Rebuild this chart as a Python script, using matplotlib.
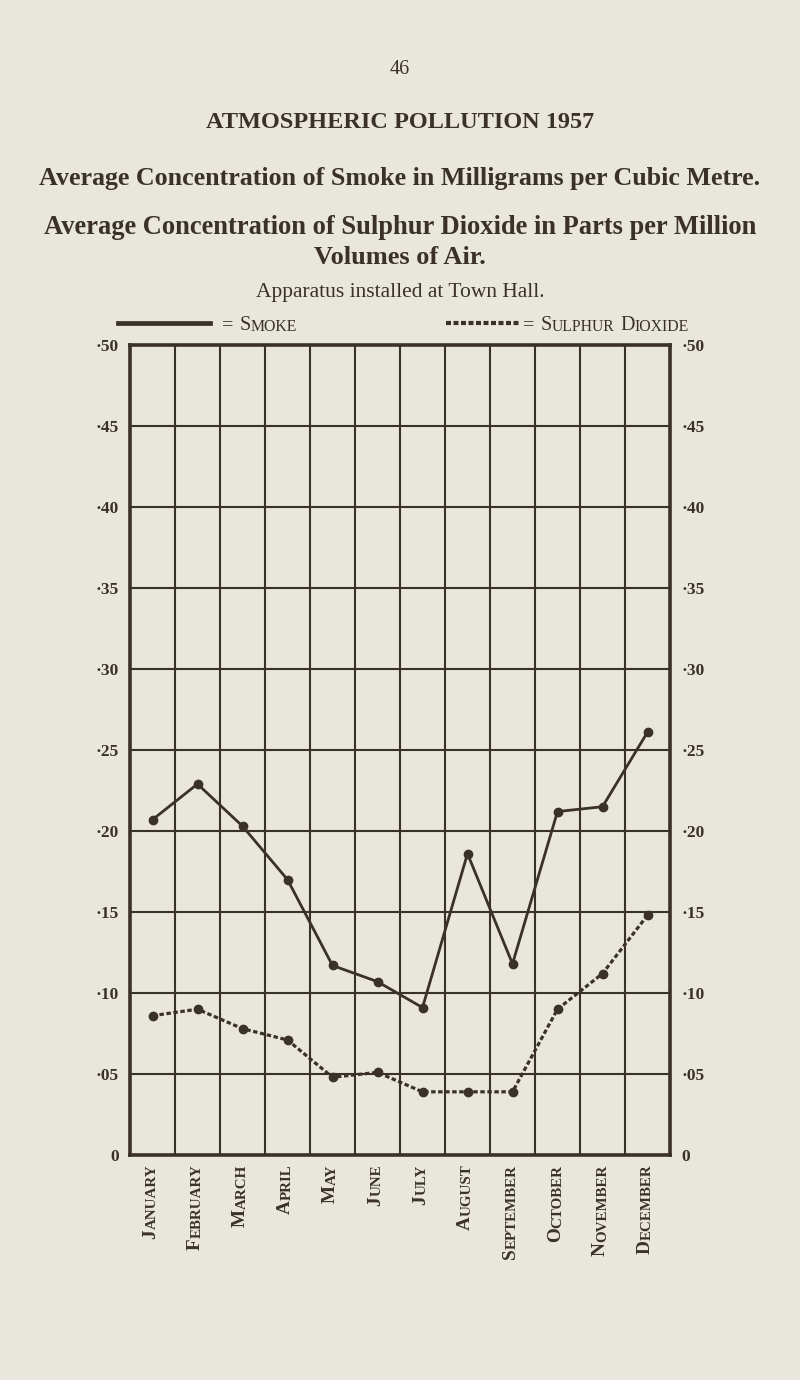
import matplotlib
matplotlib.use("Agg")
import matplotlib.pyplot as plt
from matplotlib.lines import Line2D

# data (1957, monthly averages)
months = ["January", "February", "March", "April", "May", "June", "July",
          "August", "September", "October", "November", "December"]
smoke = [0.207, 0.229, 0.203, 0.170, 0.117, 0.107, 0.091, 0.186, 0.118, 0.212, 0.215, 0.261]
sulphur = [0.086, 0.090, 0.078, 0.071, 0.048, 0.051, 0.039, 0.039, 0.039, 0.090, 0.112, 0.148]
ytick_values = [0, 0.05, 0.10, 0.15, 0.20, 0.25, 0.30, 0.35, 0.40, 0.45, 0.50]
ytick_labels = ["0", "·05", "·10", "·15", "·20", "·25", "·30", "·35", "·40", "·45", "·50"]

PAGE = "#e9e6de"
INK = "#3a3129"
SERIF = "Liberation Serif"

plt.rcParams["font.family"] = [SERIF, "DejaVu Serif"]


def small_caps(ax, x, y, text, size, ratio=0.78, **kw):
    # fake small caps: capitals at full size, the rest upper-cased and smaller
    prev = None
    for word in text.split(" "):
        runs = []
        for ch in word:
            low = ch.islower()
            if runs and runs[-1][0] == low:
                runs[-1][1] += ch.upper()
            else:
                runs.append([low, ch.upper()])
        for ri, (low, s) in enumerate(runs):
            fs = size * ratio if low else size
            if prev is None:
                prev = ax.text(x, y, s, fontsize=fs, ha="left", va="baseline",
                               transform=ax.transAxes, **kw)
            else:
                gap = size * 0.3 if ri == 0 else 0
                prev = ax.annotate(s, xy=(1, 0), xycoords=prev, xytext=(gap, 0),
                                   textcoords="offset points", ha="left", va="bottom",
                                   fontsize=fs, **kw)
    return prev


fig = plt.figure(figsize=(8, 13.8), dpi=100, facecolor=PAGE)

# page texts
page = fig.add_axes([0, 0, 1, 1])
page.axis("off")
page.set_xlim(0, 1)
page.set_ylim(0, 1)
page.text(0.5, 1 - 70 / 1380, "46", ha="center", va="center", fontsize=14.5, color=INK)
page.text(0.5, 1 - 123 / 1380, "ATMOSPHERIC POLLUTION 1957", ha="center", va="center",
          fontsize=17.5, fontweight="bold", color=INK)
page.text(0.5, 1 - 178 / 1380, "Average Concentration of Smoke in Milligrams per Cubic Metre.",
          ha="center", va="center", fontsize=18.7, fontweight="bold", color=INK)
page.text(0.5, 1 - 228 / 1380, "Average Concentration of Sulphur Dioxide in Parts per Million",
          ha="center", va="center", fontsize=19.1, fontweight="bold", color=INK)
page.text(0.5, 1 - 258 / 1380, "Volumes of Air.", ha="center", va="center",
          fontsize=19, fontweight="bold", color=INK)
page.text(0.5, 1 - 292 / 1380, "Apparatus installed at Town Hall.", ha="center", va="center",
          fontsize=15.5, color=INK)

# legend
ly = 1 - 323 / 1380
page.add_line(Line2D([118 / 800, 210 / 800], [ly, ly], color=INK, lw=3.4))
small_caps(page, 222 / 800, ly - 0.005, "= Smoke", 14.5, color=INK)
page.add_line(Line2D([446 / 800, 521 / 800], [ly, ly], color=INK, lw=3.0,
                     linestyle=(0, (1.2, 0.6))))
small_caps(page, 523 / 800, ly - 0.005, "= Sulphur Dioxide", 14.5, color=INK)

# chart
ax = fig.add_axes([130 / 800, 1 - 1155 / 1380, 540 / 800, 810 / 1380])
ax.set_facecolor(PAGE)
ax.set_xlim(0, len(months))
ax.set_ylim(0, 0.5)

for i in range(1, len(months)):
    ax.axvline(i, color=INK, lw=1.5, zorder=1)
for v in ytick_values[1:-1]:
    ax.axhline(v, color=INK, lw=1.5, zorder=1)
for side in ax.spines.values():
    side.set_linewidth(2.6)
    side.set_color(INK)

xs = [i + 0.5 for i in range(len(months))]
ax.plot(xs, smoke, color=INK, lw=2.0, marker="o", markersize=6, zorder=3)
ax.plot(xs, sulphur, color=INK, lw=2.3, linestyle=(0, (1.4, 0.8)),
        marker="o", markersize=6, zorder=3)

ax.set_xticks([])
ax.set_yticks(ytick_values)
ax.set_yticklabels(ytick_labels)
ax.tick_params(axis="y", length=0, pad=8, labelsize=12.5, labelcolor=INK,
               labelleft=True, labelright=True)
for lab in ax.get_yticklabels():
    lab.set_fontweight("bold")

# month labels, rotated, small caps, hanging from the bottom of the frame
for x, name in zip(xs, months):
    rest = ax.text(x, -0.006, name[1:].upper(), rotation=90, ha="center", va="top",
                   fontsize=10.8, fontweight="bold", color=INK)
    ax.annotate(name[0], xy=(1, 0), xycoords=rest, ha="right", va="top", rotation=90,
                fontsize=13.8, fontweight="bold", color=INK)

fig.savefig("out.png", dpi=100, facecolor=PAGE)
